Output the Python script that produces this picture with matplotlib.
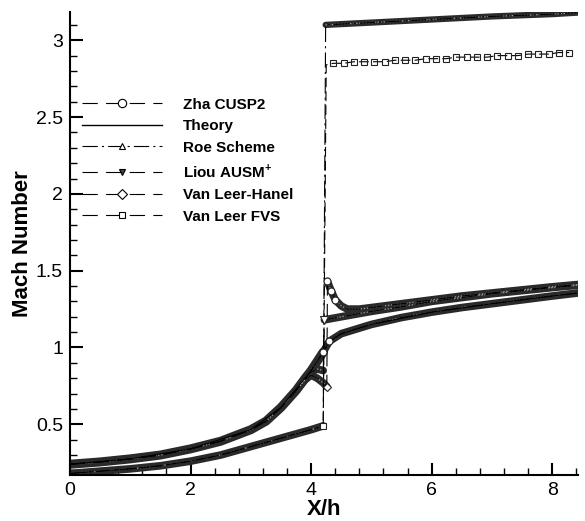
import matplotlib
matplotlib.use('Agg')
import matplotlib.pyplot as plt
from matplotlib.lines import Line2D
from matplotlib.ticker import MultipleLocator, FuncFormatter

plt.rcParams['font.family'] = ['Liberation Sans', 'DejaVu Sans']
plt.rcParams['mathtext.fontset'] = 'custom'
plt.rcParams['mathtext.rm'] = 'Liberation Sans:bold'
plt.rcParams['mathtext.bf'] = 'Liberation Sans:bold'
plt.rcParams['lines.scale_dashes'] = False

# subsonic part shared by the upper family of curves
x_up = [0.0, 0.5, 1.0, 1.5, 2.0, 2.5, 3.0, 3.25, 3.5, 3.75]
m_up = [0.24, 0.255, 0.275, 0.30, 0.34, 0.39, 0.465, 0.52, 0.61, 0.72]
# lower subsonic branch (Roe, Van Leer FVS)
x_lo = [0.0, 0.5, 1.0, 1.5, 2.0, 2.5, 3.0, 3.5, 4.0, 4.2]
m_lo = [0.18, 0.195, 0.21, 0.23, 0.26, 0.30, 0.355, 0.41, 0.465, 0.49]

# Zha CUSP2
x_zha_sh = [3.9, 4.0, 4.1, 4.2, 4.3, 4.5, 5.0, 5.5, 6.0, 6.5, 7.0, 7.5, 8.0, 8.43]
m_zha_sh = [0.80, 0.85, 0.91, 0.97, 1.04, 1.09, 1.15, 1.195, 1.23, 1.26, 1.285, 1.31, 1.335, 1.355]
# Theory
x_th = [0.0, 1.0, 2.0, 3.0, 3.5, 4.0, 4.2, 4.3, 4.5, 5.0, 6.0, 7.0, 8.0, 8.43]
m_th = [0.24, 0.275, 0.34, 0.465, 0.61, 0.85, 0.97, 1.04, 1.09, 1.15, 1.23, 1.285, 1.335, 1.355]
# Roe scheme, supersonic after the jump
x_roe_sup = [4.24, 5.0, 6.0, 7.0, 8.0, 8.43]
m_roe_sup = [3.10, 3.115, 3.135, 3.155, 3.17, 3.18]
# Liou AUSM+
x_liou_pre = [3.9, 4.0, 4.1, 4.2]
m_liou_pre = [0.80, 0.84, 0.86, 0.85]
x_liou_post = [4.22, 4.5, 5.0, 5.5, 6.0, 6.5, 7.0, 7.5, 8.0, 8.43]
m_liou_post = [1.18, 1.20, 1.235, 1.265, 1.30, 1.325, 1.35, 1.37, 1.39, 1.405]
# Van Leer-Hanel
x_vlh_pre = [3.9, 4.0, 4.1, 4.2, 4.26]
m_vlh_pre = [0.79, 0.82, 0.80, 0.77, 0.745]
x_vlh_post = [4.27, 4.33, 4.4, 4.5, 4.6, 4.8, 5.0, 5.5, 6.0, 6.5, 7.0, 7.5, 8.0, 8.43]
m_vlh_post = [1.43, 1.37, 1.31, 1.27, 1.25, 1.25, 1.26, 1.285, 1.31, 1.335, 1.355, 1.375, 1.395, 1.41]
# Van Leer FVS, supersonic after the jump
x_fvs_sup = [4.25, 4.37, 4.54, 4.71, 4.88, 5.05, 5.22, 5.39, 5.56, 5.73, 5.9, 6.07, 6.24,
             6.41, 6.58, 6.75, 6.92, 7.09, 7.26, 7.43, 7.6, 7.77, 7.94, 8.11, 8.28]
m_fvs_sup = [2.84, 2.85, 2.85, 2.86, 2.86, 2.86, 2.86, 2.87, 2.87, 2.87, 2.88, 2.88, 2.88,
             2.89, 2.89, 2.89, 2.89, 2.90, 2.90, 2.90, 2.91, 2.91, 2.91, 2.92, 2.92]

labels = ['Zha CUSP2', 'Theory', 'Roe Scheme', r'Liou AUSM$^{+}$', 'Van Leer-Hanel', 'Van Leer FVS']

fig = plt.figure(figsize=(5.85, 5.21), dpi=100)
ax = fig.add_axes([0.1197, 0.0883, 0.8687, 0.889])


def band(x, y, w=5.5):
    # dense markers of the original show up as a thick speckled band
    ax.plot(x, y, color='#2a2a2a', lw=w, solid_capstyle='round', zorder=2)
    ax.plot(x, y, color='white', lw=0.9, dashes=(0.9, 1.3), alpha=0.55, zorder=3)


band(x_up + x_zha_sh[:4], m_up + m_zha_sh[:4], 6.5)
band(x_zha_sh[3:], m_zha_sh[3:])
band(x_lo, m_lo)
band(x_roe_sup, m_roe_sup, 4.5)
band(x_up[-1:] + x_liou_pre, m_up[-1:] + m_liou_pre)
band(x_liou_post, m_liou_post)
band(x_up[-1:] + x_vlh_pre, m_up[-1:] + m_vlh_pre)
band(x_vlh_post, m_vlh_post)

lw = 0.8
dash = (11, 6)
dashdot = (11, 3, 1.5, 3)
ax.plot(x_th, m_th, color='k', lw=lw, zorder=4)
ax.plot(x_up + x_zha_sh, m_up + m_zha_sh, color='k', lw=lw, dashes=dash, zorder=4)
ax.plot(x_lo + x_roe_sup, m_lo + m_roe_sup, color='k', lw=lw, dashes=dashdot, zorder=4)
ax.plot(x_up + x_liou_pre + x_liou_post, m_up + m_liou_pre + m_liou_post,
        color='k', lw=lw, dashes=dash, zorder=4)
ax.plot(x_up + x_vlh_pre + x_vlh_post, m_up + m_vlh_pre + m_vlh_post,
        color='k', lw=lw, dashes=dash, zorder=4)
ax.plot(x_lo + x_fvs_sup, m_lo + m_fvs_sup, color='k', lw=lw, dashes=(7, 3), zorder=4)

# single markers that stand out near the jump
mk = dict(ls='none', mec='#222222', mew=0.8, zorder=5)
ax.plot(x_fvs_sup[1:], m_fvs_sup[1:], marker='s', ms=5, mfc='none', **mk)
ax.plot(x_lo[-1:], m_lo[-1:], marker='s', ms=5, mfc='white', **mk)
ax.plot(x_zha_sh[3:5], m_zha_sh[3:5], marker='o', ms=5, mfc='white', **mk)
ax.plot(x_vlh_pre[-1:], m_vlh_pre[-1:], marker='D', ms=4.5, mfc='white', **mk)
ax.plot(x_vlh_post[:3], m_vlh_post[:3], marker='o', ms=5, mfc='white', **mk)
ax.plot(x_liou_post[:1], m_liou_post[:1], marker='v', ms=5.5, mfc='white', **mk)

handles = [
    Line2D([], [], color='k', lw=lw, dashes=dash, marker='o', ms=6, mfc='white', mec='k', mew=0.8),
    Line2D([], [], color='k', lw=1.0),
    Line2D([], [], color='k', lw=lw, dashes=dashdot, marker='^', ms=4.5, mfc='white', mec='k', mew=0.8),
    Line2D([], [], color='k', lw=lw, dashes=dash, marker='v', ms=5, mfc='#444444', mec='k', mew=0.8),
    Line2D([], [], color='k', lw=lw, dashes=dash, marker='D', ms=5, mfc='white', mec='k', mew=0.8),
    Line2D([], [], color='k', lw=lw, dashes=dash, marker='s', ms=4, mfc='white', mec='k', mew=0.8),
]
leg = ax.legend(handles, labels, loc='upper left', bbox_to_anchor=(0.024, 0.815),
                frameon=False, numpoints=1, handlelength=5.2, handletextpad=1.4,
                labelspacing=0.5, borderpad=0, borderaxespad=0,
                prop={'size': 11, 'weight': 'bold'})

ax.set_xlim(0, 8.43)
ax.set_ylim(0.17, 3.185)
ax.xaxis.set_major_locator(MultipleLocator(2))
ax.xaxis.set_minor_locator(MultipleLocator(0.4))
ax.yaxis.set_major_locator(MultipleLocator(0.5))
ax.yaxis.set_minor_locator(MultipleLocator(0.1))
ax.yaxis.set_major_formatter(FuncFormatter(lambda v, p: '%g' % v))
ax.tick_params(which='major', direction='in', length=9, width=1.5, labelsize=14, pad=5)
ax.tick_params(which='minor', direction='in', length=5, width=1)
for s in ['top', 'right']:
    ax.spines[s].set_visible(False)
for s in ['left', 'bottom']:
    ax.spines[s].set_linewidth(1.5)

ax.set_xlabel('X/h', fontsize=16, fontweight='bold', labelpad=0)
ax.set_ylabel('Mach Number', fontsize=16, fontweight='bold')
ax.yaxis.set_label_coords(-0.072, 0.5)

fig.savefig('out.png', dpi=100)
